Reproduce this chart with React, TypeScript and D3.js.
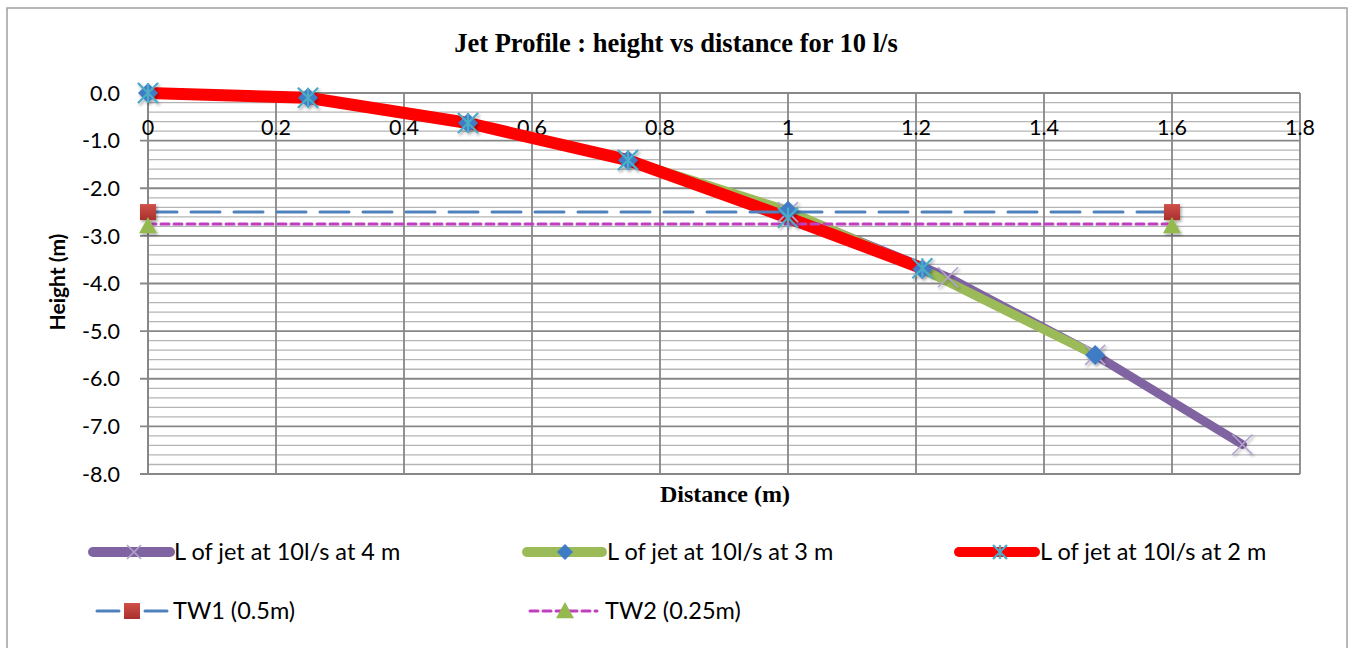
import React from "react";
import * as d3 from "d3";

const distance4 = [0, 0.25, 0.5, 0.75, 1.0, 1.25, 1.48, 1.71];
const height4 = [0, -0.1, -0.63, -1.41, -2.5, -3.87, -5.5, -7.38];
const distance3 = [0, 0.25, 0.5, 0.75, 1.0, 1.21, 1.48];
const height3 = [0, -0.1, -0.63, -1.41, -2.47, -3.7, -5.5];
const distance2 = [0, 0.25, 0.5, 0.75, 1.0, 1.21];
const height2 = [0, -0.1, -0.63, -1.41, -2.62, -3.68];
const twDistance = [0, 1.6];
const tw1Height = [-2.5, -2.5];
const tw2Height = [-2.75, -2.75];

const xTicks = [0, 0.2, 0.4, 0.6, 0.8, 1, 1.2, 1.4, 1.6, 1.8];
const yTicks = [0, -1, -2, -3, -4, -5, -6, -7, -8];

const title = "Jet Profile : height vs distance for 10 l/s";
const xTitle = "Distance (m)";
const yTitle = "Height (m)";
const legendNames = [
  "L of jet at 10l/s at 4 m",
  "L of jet at 10l/s at 3 m",
  "L of jet at 10l/s at 2 m",
  "TW1 (0.5m)",
  "TW2 (0.25m)",
];

const W = 1353;
const H = 648;
const x = d3.scaleLinear().domain([0, 1.8]).range([148, 1300]);
const y = d3.scaleLinear().domain([-8, 0]).range([474, 93]);

const pts = (xs: number[], ys: number[]) => xs.map((d, i) => [d, ys[i]] as [number, number]);
const line = d3
  .line<[number, number]>()
  .x((d) => x(d[0]))
  .y((d) => y(d[1]));

const TICK_FONT = "Lato, 'Open Sans', sans-serif";
const fmtY = (v: number) => (Math.abs(v) < 1e-9 ? "0.0" : v.toFixed(1));

function XMark({ cx, cy, r = 10 }: { cx: number; cy: number; r?: number }) {
  return (
    <path
      d={`M${cx - r},${cy - r}L${cx + r},${cy + r}M${cx - r},${cy + r}L${cx + r},${cy - r}`}
      stroke="#B3A2D0"
      strokeWidth={1.6}
      fill="none"
    />
  );
}
function StarMark({ cx, cy, r = 10 }: { cx: number; cy: number; r?: number }) {
  return (
    <path
      d={`M${cx - r},${cy - r}L${cx + r},${cy + r}M${cx - r},${cy + r}L${cx + r},${cy - r}M${cx},${cy - r}L${cx},${cy + r}`}
      stroke="#4BACC6"
      strokeWidth={2.2}
      fill="none"
    />
  );
}
function Diamond({ cx, cy, r = 10 }: { cx: number; cy: number; r?: number }) {
  return <path d={`M${cx},${cy - r}L${cx + r},${cy}L${cx},${cy + r}L${cx - r},${cy}Z`} fill="#3F7BC6" />;
}
function Square({ cx, cy, r = 8 }: { cx: number; cy: number; r?: number }) {
  return <rect x={cx - r} y={cy - r} width={2 * r} height={2 * r} fill="url(#sqGrad)" />;
}
function Tri({ cx, cy, r = 9 }: { cx: number; cy: number; r?: number }) {
  return <path d={`M${cx},${cy - r}L${cx + r},${cy + r * 0.8}L${cx - r},${cy + r * 0.8}Z`} fill="#93B94F" />;
}

export default function App() {
  const minor: number[] = [];
  for (let v = 0; v >= -8; v -= 0.2) {
    const r = Math.round(v * 10) / 10;
    if (Math.abs(r - Math.round(r)) > 1e-6) minor.push(r);
  }
  const s4 = pts(distance4, height4);
  const s3 = pts(distance3, height3);
  const s2 = pts(distance2, height2);
  const t1 = pts(twDistance, tw1Height);
  const t2 = pts(twDistance, tw2Height);

  const row1 = 552;
  const row2 = 611;
  const cols = [93, 527, 959];

  return (
    <div style={{ position: "absolute", left: 0, top: 0 }}>
      <svg width={W} height={H} style={{ display: "block", background: "#fff" }}>
        <defs>
          <filter id="sh" x="-50%" y="-50%" width="200%" height="200%">
            <feDropShadow dx="1.5" dy="2" stdDeviation="1.5" floodColor="#000" floodOpacity="0.35" />
          </filter>
          <linearGradient id="sqGrad" x1="0" y1="0" x2="0" y2="1">
            <stop offset="0" stopColor="#D0504A" />
            <stop offset="1" stopColor="#A8302C" />
          </linearGradient>
        </defs>
        <rect x={7} y={8} width={1340} height={700} fill="#fff" stroke="#A0A0A0" strokeWidth={1.5} />

        {/* title */}
        <text
          x={676}
          y={52}
          textAnchor="middle"
          fontFamily="'Liberation Serif', 'Times New Roman', serif"
          fontWeight="bold"
          fontSize={26.5}
        >
          {title}
        </text>

        {/* minor gridlines */}
        {minor.map((v) => (
          <line key={"m" + v} x1={x(0)} x2={x(1.8)} y1={y(v)} y2={y(v)} stroke="#B5B5B5" strokeWidth={1.3} />
        ))}
        {/* vertical major */}
        {xTicks.map((v) => (
          <line key={"v" + v} x1={x(v)} x2={x(v)} y1={y(0)} y2={y(-8)} stroke="#878787" strokeWidth={1.8} />
        ))}
        {/* horizontal major */}
        {yTicks.map((v) => (
          <line key={"h" + v} x1={x(0) - 8} x2={x(1.8)} y1={y(v)} y2={y(v)} stroke="#878787" strokeWidth={1.8} />
        ))}
        <line x1={x(0)} x2={x(0)} y1={y(0)} y2={y(-8)} stroke="#878787" strokeWidth={2} />

        {/* y tick labels */}
        {yTicks.map((v) => (
          <text
            key={"yl" + v}
            x={120}
            y={y(v)}
            dy="0.36em"
            textAnchor="end"
            fontFamily={TICK_FONT}
            fontSize={21.5}
            fill="#000"
          >
            {fmtY(v)}
          </text>
        ))}
        {/* x tick labels */}
        {xTicks.map((v) => (
          <text key={"xl" + v} x={x(v)} y={135} textAnchor="middle" fontFamily={TICK_FONT} fontSize={21.5} fill="#000">
            {String(v)}
          </text>
        ))}

        {/* axis titles */}
        <text
          x={725}
          y={502}
          textAnchor="middle"
          fontFamily="'Liberation Serif', 'Times New Roman', serif"
          fontWeight="bold"
          fontSize={24}
        >
          {xTitle}
        </text>
        <text
          transform="translate(65,282) rotate(-90)"
          textAnchor="middle"
          fontFamily={TICK_FONT}
          fontWeight="bold"
          fontSize={21}
        >
          {yTitle}
        </text>

        {/* series lines */}
        <path d={line(s4) || ""} fill="none" stroke="#8064A2" strokeWidth={9} strokeLinejoin="round" strokeLinecap="round" />
        <path d={line(s3) || ""} fill="none" stroke="#9BBB59" strokeWidth={9} strokeLinejoin="round" strokeLinecap="round" />
        <path d={line(s2) || ""} fill="none" stroke="#FF0000" strokeWidth={12} strokeLinejoin="round" strokeLinecap="round" />
        <path d={line(t1) || ""} fill="none" stroke="#4F81BD" strokeWidth={3} strokeDasharray="29 14" strokeLinecap="round" />
        <path d={line(t2) || ""} fill="none" stroke="#BF3FBF" strokeWidth={3} strokeDasharray="8 5" strokeLinecap="round" />

        {/* markers */}
        <g filter="url(#sh)">
          {s4.map((d, i) => (
            <XMark key={"x4" + i} cx={x(d[0])} cy={y(d[1])} />
          ))}
          {s3.map((d, i) => (
            <Diamond key={"d3" + i} cx={x(d[0])} cy={y(d[1])} />
          ))}
          {s2.map((d, i) => (
            <StarMark key={"s2" + i} cx={x(d[0])} cy={y(d[1])} />
          ))}
          {t1.map((d, i) => (
            <Square key={"q" + i} cx={x(d[0])} cy={y(d[1])} />
          ))}
          {t2.map((d, i) => (
            <Tri key={"t" + i} cx={x(d[0])} cy={y(d[1]) + 2} />
          ))}
        </g>

        {/* legend */}
        <g fontFamily={TICK_FONT} fontSize={23.5} fill="#000">
          <line x1={cols[0]} x2={cols[0] + 77} y1={row1} y2={row1} stroke="#8064A2" strokeWidth={10} strokeLinecap="round" />
          <XMark cx={cols[0] + 41} cy={row1} r={7} />
          <text x={cols[0] + 81} y={row1} dy="0.36em">{legendNames[0]}</text>

          <line x1={cols[1]} x2={cols[1] + 75} y1={row1} y2={row1} stroke="#9BBB59" strokeWidth={10} strokeLinecap="round" />
          <Diamond cx={cols[1] + 38} cy={row1} r={8} />
          <text x={cols[1] + 80} y={row1} dy="0.36em">{legendNames[1]}</text>

          <line x1={cols[2]} x2={cols[2] + 76} y1={row1} y2={row1} stroke="#FF0000" strokeWidth={10} strokeLinecap="round" />
          <StarMark cx={cols[2] + 41} cy={row1} r={7} />
          <text x={cols[2] + 81} y={row1} dy="0.36em">{legendNames[2]}</text>

          <line x1={97} x2={167} y1={row2} y2={row2} stroke="#4F81BD" strokeWidth={3} strokeDasharray="22 26 22" strokeLinecap="round" />
          <Square cx={132} cy={row2} r={8} />
          <text x={173} y={row2} dy="0.36em">{legendNames[3]}</text>

          <line x1={530} x2={597} y1={row2} y2={row2} stroke="#BF3FBF" strokeWidth={3} strokeDasharray="8 5" strokeLinecap="round" />
          <Tri cx={565} cy={row2} r={9} />
          <text x={605} y={row2} dy="0.36em">{legendNames[4]}</text>
        </g>
      </svg>
    </div>
  );
}
